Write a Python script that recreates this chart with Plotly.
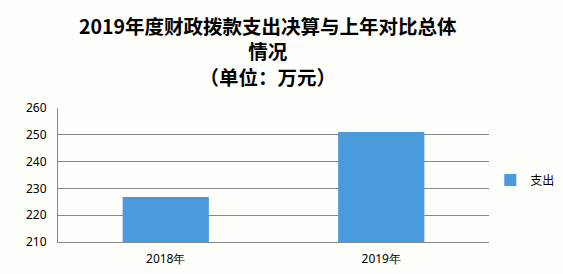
import plotly.graph_objects as go

categories = ["2018年", "2019年"]
values = [226.8, 251.0]
series_name = "支出"
y_ticks = [210, 220, 230, 240, 250, 260]
title_lines = ["2019年度财政拨款支出决算与上年对比总体", "情况", "（单位：万元）"]

W, H = 563, 274
L, R, T, B = 58, 74, 108, 32
bg = "#fefefb"
PH = H - T - B
PW = W - L - R

fig = go.Figure()
fig.add_trace(go.Bar(
    x=categories, y=values, name=series_name,
    marker=dict(color="#4a9ade", line=dict(width=0)),
    width=0.4,
))

fig.add_annotation(
    text="<br>".join("<b>" + t + "</b>" for t in title_lines), showarrow=False,
    xref="paper", yref="paper",
    x=(268 - L) / PW, y=(H - B - 51) / PH,
    xanchor="center", yanchor="middle", align="center",
    font=dict(family="Noto Sans CJK SC, sans-serif", size=19.5, color="#000000"),
)

fig.update_layout(
    width=W, height=H,
    margin=dict(l=L, r=R, t=T, b=B, pad=0, autoexpand=False),
    paper_bgcolor=bg, plot_bgcolor=bg,
    font=dict(family="Noto Sans CJK SC, sans-serif", color="#000000", size=12),
    showlegend=True,
    legend=dict(
        x=1.003, y=0.463, xanchor="left", yanchor="middle",
        font=dict(size=12, color="#000000"),
        bgcolor="rgba(0,0,0,0)",
        itemwidth=30,
    ),
    bargap=0.6,
)
fig.update_xaxes(
    showline=True, linecolor="#888888", linewidth=1,
    showgrid=False, ticks="", tickfont=dict(size=12, family="Noto Sans, sans-serif"),
    ticklabelstandoff=6,
)
fig.update_yaxes(
    range=[210, 260], tickvals=y_ticks,
    showline=True, linecolor="#888888", linewidth=1,
    showgrid=True, gridcolor="#888888", gridwidth=1,
    ticks="", tickfont=dict(size=12, family="Noto Sans, sans-serif"),
    zeroline=False, ticklabelstandoff=8,
)
fig.write_html("out.html")
